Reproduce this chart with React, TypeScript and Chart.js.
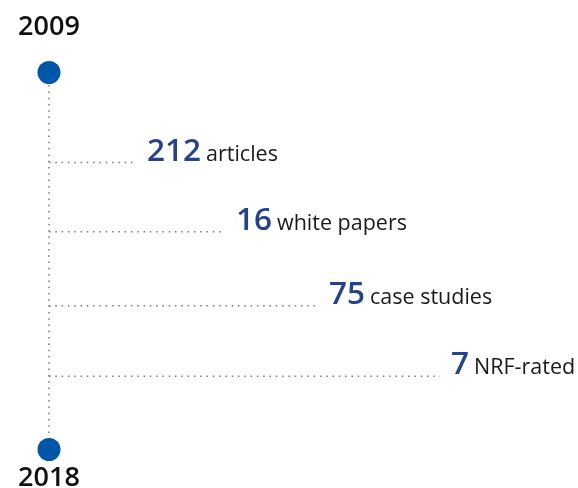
import React, { useEffect, useRef } from "react";
import { Chart, registerables } from "chart.js";

Chart.register(...registerables);

// ---- data ----
const startYear = 2009;
const endYear = 2018;
const counts = [212, 16, 75, 7];
const units = ["articles", "white papers", "case studies", "NRF-rated"];
// where each milestone sits on the timeline (in years)
const itemYears = [2011.15, 2012.8, 2014.57, 2016.25];
// length of each dotted leader (0–100 scale)
const leaderLengths = [17.4, 35.2, 53.8, 78.2];

const BLUE = "#0057a8";
const NUM_BLUE = "#25438b";
const DOT_GREY = "#7a7a7a";
const FONT = '"Open Sans", "Noto Sans", sans-serif';

const labelPlugin = {
  id: "timelineLabels",
  afterDatasetsDraw(chart: any) {
    const { ctx, scales } = chart;
    const xs = scales.x;
    const ys = scales.y;
    ctx.save();
    // years
    ctx.fillStyle = "#111111";
    ctx.font = `600 27px ${FONT}`;
    ctx.textAlign = "center";
    ctx.textBaseline = "alphabetic";
    const x0 = xs.getPixelForValue(0);
    ctx.fillText(String(startYear), x0, ys.getPixelForValue(startYear) - 37.5);
    ctx.fillText(String(endYear), x0, ys.getPixelForValue(endYear) + 36.5);

    // milestone labels
    ctx.textAlign = "left";
    counts.forEach((c, i) => {
      const px = xs.getPixelForValue(leaderLengths[i]) + 11;
      const py = ys.getPixelForValue(itemYears[i]) - 2;
      ctx.font = `600 31.5px ${FONT}`;
      ctx.fillStyle = NUM_BLUE;
      const s = String(c);
      ctx.fillText(s, px, py);
      const w = ctx.measureText(s).width;
      ctx.font = `21.5px ${FONT}`;
      ctx.fillStyle = "#1a1a1a";
      ctx.fillText(units[i], px + w + 5, py);
    });
    ctx.restore();
  },
};

export default function App() {
  const ref = useRef<HTMLCanvasElement | null>(null);

  useEffect(() => {
    if (!ref.current) return;
    const dotted = {
      showLine: true,
      borderColor: DOT_GREY,
      borderWidth: 1.5,
      borderDash: [1.5, 4.8],
      pointRadius: 0,
      pointHoverRadius: 0,
      clip: false as any,
    };
    const datasets: any[] = [
      {
        label: "endpoints",
        data: [
          { x: 0, y: startYear },
          { x: 0, y: endYear },
        ],
        showLine: false,
        pointRadius: 11.5,
        pointHoverRadius: 11.5,
        pointBackgroundColor: BLUE,
        pointBorderColor: BLUE,
        pointBorderWidth: 0,
        clip: false,
      },
      {
        ...dotted,
        label: "timeline",
        data: [
          { x: 0, y: startYear },
          { x: 0, y: endYear },
        ],
      },
      ...counts.map((c, i) => ({
        ...dotted,
        label: units[i],
        data: [
          { x: 0, y: itemYears[i] },
          { x: leaderLengths[i], y: itemYears[i] },
        ],
      })),
    ];

    const chart = new Chart(ref.current, {
      type: "scatter",
      data: { datasets },
      options: {
        animation: false,
        responsive: false,
        events: [],
        layout: {
          autoPadding: false,
          padding: { left: 49, right: 29, top: 72.5, bottom: 38.5 },
        },
        scales: {
          x: { type: "linear", min: 0, max: 100, display: false },
          y: { type: "linear", min: startYear, max: endYear, reverse: true, display: false },
        },
        plugins: {
          legend: { display: false },
          tooltip: { enabled: false },
        },
      } as any,
      plugins: [labelPlugin],
    });

    let alive = true;
    if ((document as any).fonts && (document as any).fonts.load) {
      Promise.all([
        (document as any).fonts.load(`600 31px "Open Sans"`),
        (document as any).fonts.load(`21px "Open Sans"`),
      ])
        .then(() => {
          if (alive) chart.draw();
        })
        .catch(() => {});
    }
    return () => {
      alive = false;
      chart.destroy();
    };
  }, []);

  return (
    <div style={{ position: "absolute", left: 0, top: 0, width: 578, height: 488, background: "#fff" }}>
      <canvas ref={ref} width={578} height={488} style={{ display: "block" }} />
    </div>
  );
}
